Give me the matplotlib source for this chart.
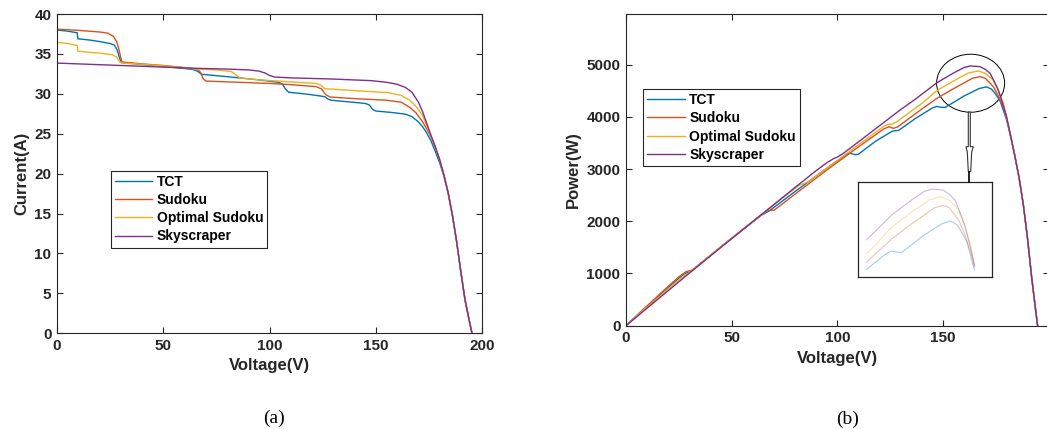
import numpy as np
import matplotlib.pyplot as plt
from matplotlib.patches import Ellipse, Polygon

plt.rcParams['font.family'] = ['Liberation Sans', 'DejaVu Sans']

# I-V curves (a)
tct_v = [0, 5, 9.5, 9.8, 15, 20, 25, 27, 28.3, 29.3, 30.3, 35, 45, 55, 64, 66, 68, 80, 95, 104,
         106, 107.5, 109, 118, 126, 127.5, 129, 137, 145, 147, 148.5, 150, 158, 164, 167, 170,
         172, 174, 176, 178, 180, 182, 184, 186, 188, 190, 192, 194, 195.3]
tct_i = [38.0, 37.85, 37.65, 36.9, 36.75, 36.55, 36.3, 36.1, 35.5, 34.6, 33.9, 33.8, 33.55, 33.3, 33.05, 32.85, 32.45, 32.15, 31.75, 31.45,
         31.25, 30.6, 30.2, 29.95, 29.65, 29.35, 29.2, 29.0, 28.8, 28.6, 28.05, 27.85, 27.65, 27.45, 27.15, 26.5,
         25.9, 25.1, 24.1, 22.8, 21.4, 19.8, 17.6, 14.9, 11.6, 7.8, 4.2, 1.6, 0.0]

sud_v = [0, 10, 20, 24, 26.5, 28, 29, 29.8, 30.5, 40, 50, 60, 66, 67.5, 68.8, 70, 85, 100, 110, 122,
         124.5, 126.5, 128.5, 140, 155, 162, 166, 169, 172, 174, 176, 178, 180, 182, 184, 186, 188,
         190, 192, 194, 195.3]
sud_i = [38.1, 37.95, 37.75, 37.6, 37.2, 36.6, 35.7, 34.8, 34.0, 33.75, 33.55, 33.3, 33.1, 32.7, 31.9, 31.6, 31.45, 31.3, 31.15, 30.9,
         30.6, 29.9, 29.6, 29.4, 29.2, 28.95, 28.3, 27.6, 26.5, 25.6, 24.6, 23.3, 21.8, 19.9, 17.7, 14.9, 11.6,
         7.8, 4.2, 1.6, 0.0]

opt_v = [0, 5, 9.5, 9.8, 15, 20, 26, 28, 29.5, 31, 40, 50, 60, 66, 75, 82, 84, 86, 95, 110, 122, 124,
         126, 140, 156, 162, 166, 169, 172, 174, 176, 178, 180, 182, 184, 186, 188, 190, 192, 194, 195.3]
opt_i = [36.45, 36.3, 36.05, 35.35, 35.2, 35.1, 34.9, 34.6, 34.0, 33.85, 33.7, 33.5, 33.25, 33.1, 33.0, 32.8, 32.4, 32.0, 31.75, 31.5, 31.3, 31.1,
         30.65, 30.4, 30.15, 29.8, 29.2, 28.4, 27.3, 26.0, 24.7, 23.3, 21.8, 19.9, 17.7, 14.9, 11.6, 7.8, 4.2, 1.6, 0.0]

sky_v = [0, 15, 30, 50, 65, 80, 90, 95, 98, 100, 102.5, 110, 130, 148, 155, 160, 164, 167, 170, 172,
         174, 176, 178, 180, 182, 184, 186, 188, 190, 192, 194, 195.3]
sky_i = [33.85, 33.7, 33.55, 33.35, 33.2, 33.1, 33.0, 32.85, 32.6, 32.3, 32.1, 32.0, 31.85, 31.65, 31.45, 31.2, 30.8, 30.2, 29.0, 27.8,
         26.3, 24.8, 23.4, 21.8, 19.9, 17.7, 14.9, 11.6, 7.8, 4.2, 1.6, 0.0]

# P-V curves (b)
tct_pv = [0, 9.6, 9.8, 20, 25, 27, 28.5, 30.3, 35, 45, 55, 64, 67, 68, 80, 95, 104, 106, 108.5, 110, 118,
          126, 127.5, 129, 137, 145, 147, 149, 151, 160, 167, 170.5, 173, 175, 177, 180, 182, 184, 186,
          188, 190, 192, 193.5, 194.8]
tct_p = [0, 365, 362, 735, 908, 975, 1010, 1028, 1183, 1510, 1830, 2115, 2180, 2205, 2570, 3015, 3270, 3305, 3275, 3285, 3530,
         3725, 3735, 3740, 3970, 4170, 4200, 4185, 4180, 4400, 4540, 4575, 4530, 4430, 4310, 3960, 3630, 3250, 2840,
         2330, 1680, 920, 420, 0]

sud_pv = [0, 10, 20, 25, 27, 28.5, 29.7, 31, 35, 45, 55, 66, 67.5, 70, 71, 80, 95, 110, 122, 124.5, 126.5,
          128.5, 137, 140, 147, 155, 160, 164, 167.5, 170, 173.8, 176, 178.6, 180, 182, 184, 186, 188, 190,
          192, 193.5, 194.8]
sud_p = [0, 380, 755, 935, 995, 1035, 1050, 1055, 1185, 1515, 1835, 2185, 2210, 2210, 2240, 2520, 2980, 3425, 3770, 3810, 3780,
         3805, 4060, 4150, 4350, 4540, 4650, 4740, 4770, 4740, 4580, 4420, 4180, 4000, 3640, 3260, 2840, 2330, 1680,
         920, 420, 0]

opt_pv = [0, 9.5, 9.8, 20, 26, 28, 29.5, 31, 40, 50, 66, 75, 82, 84, 86, 95, 110, 122, 124, 126, 128,
          137, 140, 147, 156, 162, 166.7, 170, 173.8, 176, 178.6, 180, 182, 184, 186, 188, 190, 192, 193.5, 194.8]
opt_p = [0, 346, 346, 702, 907, 968, 1003, 1050, 1348, 1675, 2185, 2475, 2690, 2720, 2752, 3016, 3465, 3820, 3856, 3862, 3900,
         4170, 4255, 4500, 4710, 4840, 4879, 4835, 4707, 4520, 4260, 4010, 3640, 3260, 2840, 2330, 1680, 920, 420, 0]

sky_pv = [0, 15, 30, 50, 65, 80, 90, 95, 98, 100, 102.5, 110, 120, 130, 137, 147, 155, 160, 163, 167.5,
          170, 172.3, 174, 176.2, 178, 180, 182, 184, 186, 188, 190, 192, 193.5, 194.8]
sky_p = [0, 505, 1007, 1668, 2158, 2648, 2970, 3120, 3195, 3230, 3290, 3520, 3830, 4140, 4340, 4650, 4840, 4945, 4975, 4962,
         4910, 4835, 4700, 4515, 4290, 4020, 3640, 3260, 2840, 2330, 1680, 920, 420, 0]

names = ['TCT', 'Sudoku', 'Optimal Sudoku', 'Skyscraper']
colors = ['#0072BD', '#D95319', '#EDB120', '#7E2F8E']
iv = [(tct_v, tct_i), (sud_v, sud_i), (opt_v, opt_i), (sky_v, sky_i)]
pv = [(tct_pv, tct_p), (sud_pv, sud_p), (opt_pv, opt_p), (sky_pv, sky_p)]

W, H = 1047, 429
fig = plt.figure(figsize=(W / 100, H / 100), dpi=100)
tc = '#262626'


def px(x, y):
    # figure pixel (from top-left) -> figure fraction
    return (x / W, 1 - y / H)


def style(ax):
    ax.tick_params(direction='in', top=True, right=True, length=4, width=0.8,
                   labelsize=11, colors=tc, pad=4)
    for lab in ax.get_xticklabels() + ax.get_yticklabels():
        lab.set_fontweight('bold')
    for s in ax.spines.values():
        s.set_color(tc)
        s.set_linewidth(0.8)


# (a)
ax1 = fig.add_axes([57 / W, 1 - 333.3 / H, 425 / W, 319.3 / H])
for (v, i), c, n in zip(iv, colors, names):
    ax1.plot(v, i, color=c, lw=1.0, label=n)
ax1.set_xlim(0, 200)
ax1.set_ylim(0, 40)
ax1.set_xticks(np.arange(0, 201, 50))
ax1.set_yticks(np.arange(0, 41, 5))
style(ax1)
ax1.set_xlabel('Voltage(V)', fontsize=12, fontweight='bold', color=tc, labelpad=4)
ax1.set_ylabel('Current(A)', fontsize=12, fontweight='bold', color=tc, labelpad=4)
leg1 = ax1.legend(loc='upper left', bbox_to_anchor=px(110.7, 170.7),
                  bbox_transform=fig.transFigure, borderaxespad=0, fancybox=False,
                  framealpha=1, edgecolor=tc, prop={'weight': 'bold', 'size': 10},
                  handlelength=2.7, handletextpad=0.3, labelspacing=0.3, borderpad=0.3)
leg1.get_frame().set_linewidth(0.8)

# (b)
ax2 = fig.add_axes([626 / W, 1 - 325.7 / H, 422.6 / W, 311.7 / H])
for (v, p), c, n in zip(pv, colors, names):
    ax2.plot(v, p, color=c, lw=1.0, label=n)
ax2.set_xlim(0, 200)
ax2.set_ylim(0, 5970)
ax2.set_xticks([0, 50, 100, 150])
ax2.set_yticks(np.arange(0, 5001, 1000))
style(ax2)
ax2.set_xlabel('Voltage(V)', fontsize=12, fontweight='bold', color=tc, labelpad=4)
ax2.set_ylabel('Power(W)', fontsize=12, fontweight='bold', color=tc, labelpad=4)
leg2 = ax2.legend(loc='upper left', bbox_to_anchor=px(643.3, 89),
                  bbox_transform=fig.transFigure, borderaxespad=0, fancybox=False,
                  framealpha=1, edgecolor=tc, prop={'weight': 'bold', 'size': 10},
                  handlelength=2.7, handletextpad=0.3, labelspacing=0.3, borderpad=0.3)
leg2.get_frame().set_linewidth(0.8)

# zoom marker around the peaks
ax2.add_patch(Ellipse((163.1, 4644), 32.2, 1111, fill=False, ec='black', lw=0.7))

# hollow arrow down to the inset
arrow = [(968.3, 112), (970.3, 112), (970.3, 146.7), (973.3, 146.7), (971.7, 152),
         (970.7, 171.7), (968.3, 171.7), (967.3, 152), (966, 146.7), (968.3, 146.7)]
fig.patches.append(Polygon([px(x, y) for x, y in arrow], closed=True, fc='white',
                           ec='#333333', lw=0.8, transform=fig.transFigure, figure=fig))
fig.lines.append(plt.Line2D([969.3 / W, 969.3 / W], [1 - 171.7 / H, 1 - 182 / H],
                            color='black', lw=1.2, transform=fig.transFigure, figure=fig))

# inset with the peaks
axi = fig.add_axes([858.3 / W, 1 - 277.3 / H, 134 / W, 95.6 / H])
for (v, p), c in zip(pv, colors):
    v = np.array(v)
    p = np.array(p)
    m = (v >= 137) & (v <= 180)
    axi.plot(v[m], p[m], color=c, lw=0.8, alpha=0.35)
axi.set_xlim(133.7, 187.1)
axi.set_ylim(3870, 5067)
axi.set_xticks([])
axi.set_yticks([])
for s in axi.spines.values():
    s.set_color(tc)
    s.set_linewidth(0.9)

fig.text(*px(274, 418), '(a)', ha='center', va='center', fontsize=14,
         family='Liberation Serif')
fig.text(*px(847.5, 419), '(b)', ha='center', va='center', fontsize=14,
         family='Liberation Serif')

fig.savefig('out.png', dpi=100)
